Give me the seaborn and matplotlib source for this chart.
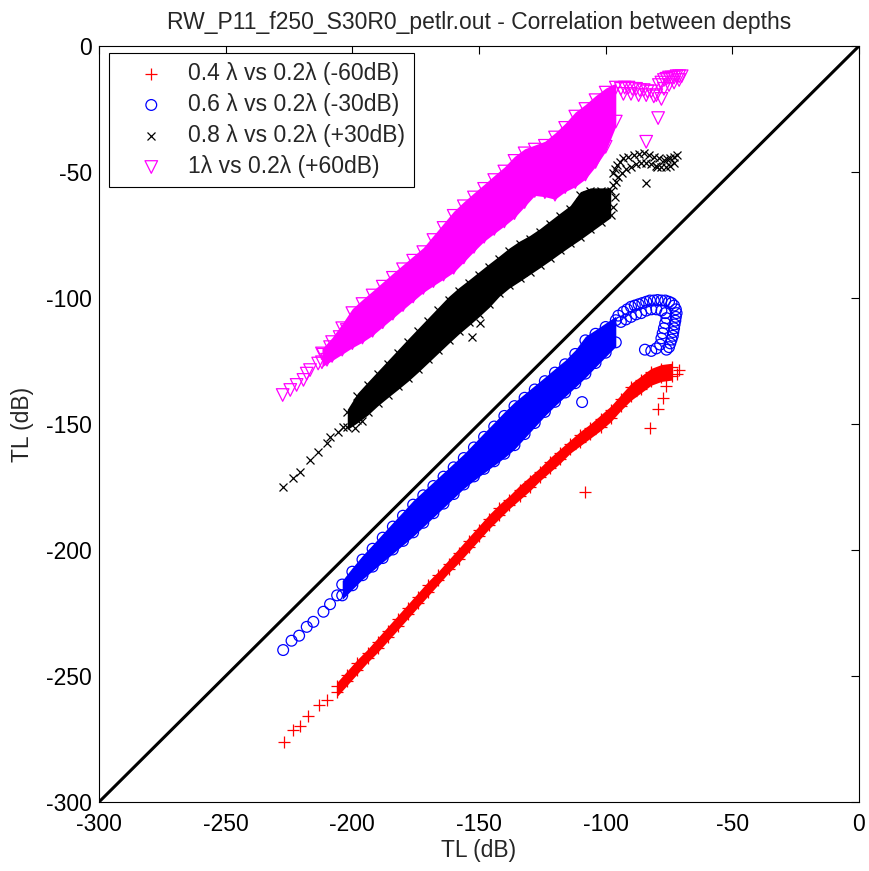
import pandas as pd
import matplotlib
matplotlib.use("Agg")
import matplotlib.pyplot as plt
import seaborn as sns

# values (TL in dB)
# dense bands: column x, lower and upper edge of the point cloud
red_x = [-206, -202, -198, -194, -190, -186, -182, -178, -174, -170, -166, -162, -158, -154, -150,
         -146, -142, -138, -134, -130, -126, -122, -118, -114, -110, -106, -102, -98, -94, -90, -86, -82, -78, -74]
red_lo = [-256.5, -252, -247.5, -243, -239, -234.5, -230, -225.5, -221, -216.5, -212, -207.5, -203.5, -199, -194.5,
          -190, -186, -182, -178.5, -175, -171, -167.5, -164, -160, -157, -154, -151, -147.5, -143, -139, -136, -133, -131.5, -131]
red_hi = [-254, -249.5, -245, -241, -236.5, -232, -227.5, -223, -218.5, -214, -210, -205.5, -201, -196.5, -192,
          -187.5, -183.5, -180, -176, -172.5, -169, -165, -161.5, -158, -154.5, -151.5, -148, -144.5, -140, -135.5, -132.5, -129.5, -128, -127.5]
red_px = [-227, -223.5, -220.5, -217.5, -213, -210, -108, -82.5, -79.5, -77.5, -76, -72, -71]
red_py = [-276, -271.5, -270, -266, -261.5, -259.5, -177, -151.5, -144, -139.5, -135, -130, -128.5]

blue_x = [-204, -200, -196, -192, -188, -184, -180, -176, -172, -168, -164, -160, -156, -152,
          -148, -144, -140, -136, -132, -128, -124, -120, -116, -112, -108, -104, -100, -96]
blue_lo = [-218, -214, -210, -206.6, -203.2, -199.8, -196.4, -193, -189.2, -185.4, -181.6, -177.8, -174, -170.8,
           -167.8, -164.8, -161.8, -158.4, -154, -149.6, -145.2, -141.2, -137.5, -133.8, -130, -125.8, -121.7, -117.6]
blue_hi = [-213.7, -208.6, -203.8, -199.5, -195.1, -190.7, -186.4, -182, -178.3, -174.6, -170.9, -167.2, -163.5, -159.3,
           -155.1, -151, -146.8, -142.9, -139.6, -136.3, -133, -129.6, -126.3, -122.2, -116.8, -114.2, -111.5, -108.8]
blue_px = [-227.3, -224, -221, -218, -215.4, -211.4, -208.8, -206,
           -95, -93, -91.5, -90, -88.5, -87, -85.5, -84, -82.5, -81, -79.5, -78, -76.5, -75, -74, -73,
           -72.3, -72, -72.3, -72.5, -72.8, -73, -73.3, -73.5, -74, -74.5, -75, -76,
           -94, -92, -90, -88, -86, -84, -82, -80, -78, -76.5, -76, -76.5, -77, -77.5, -78, -78.5,
           -84.5, -82, -80, -109.3]
blue_py = [-239.7, -236, -234, -230.5, -228.5, -224.5, -221.5, -218,
           -107, -105.5, -104.5, -103.5, -103, -102.5, -102, -101.5, -101, -101, -100.8, -101, -101, -101.5, -102, -103,
           -104.5, -106, -107.5, -109, -110.5, -112, -113.5, -115, -116.5, -118, -119.5, -120.5,
           -109.5, -108.5, -107.5, -106.5, -106, -105, -104.5, -104.5, -105, -106, -108, -110, -112, -114, -116, -118.5,
           -120.5, -121, -120, -141.3]

black_x = [-202, -198, -194, -190, -186, -182, -178, -174, -170, -166, -162, -158, -154, -150,
           -146, -142, -138, -134, -130, -126, -122, -118, -114, -110, -106, -102, -98]
black_lo = [-151, -148.3, -145.3, -141.6, -138.3, -135.1, -131.8, -128.2, -124.4, -120.6, -116.8, -113.1, -109.7, -106.2,
            -102.5, -98.1, -94.8, -92.2, -89.5, -86.8, -84, -81.1, -78.3, -75.6, -72.7, -69.8, -66.9]
black_hi = [-145.4, -139, -134.6, -130.3, -126, -121.7, -117.4, -113.2, -109, -104.8, -100.6, -97.1, -94, -90.8,
            -87.6, -84.5, -81.3, -78.6, -76.4, -73.7, -70.6, -67.5, -64.5, -59, -57.5, -57.5, -57.5]
black_px = [-227.2, -223.3, -220.6, -216.7, -213.4, -210.1, -208.8, -205.5, -203.5,
            -97, -96.3, -95.6, -94.3, -93, -91, -89, -87, -85, -83, -81, -79, -77, -75.7, -74.5, -73.2, -72,
            -96, -95, -93.5, -92, -90, -88, -86, -84, -82, -80, -78, -76, -74.5, -73,
            -97, -96.5, -97, -84, -79.6, -152.9, -149.6, -199, -196]
black_py = [-174.9, -171.6, -169, -164.3, -161, -157.7, -155, -153, -151,
            -50.5, -49, -47.2, -46, -44.6, -44, -43.3, -43, -42.6, -43.2, -43.9, -44.5, -45.2, -45, -44.6, -44, -43.3,
            -54, -52, -50.5, -49, -48, -47, -46.5, -46.5, -47, -47.5, -48, -48, -47.5, -46.5,
            -55, -60, -64, -54.2, -48.1, -115.3, -110, -151.5, -149]

mag_x = [-212, -208, -204, -200, -196, -192, -188, -184, -180, -176, -172, -168, -164, -160, -156, -152, -148,
         -144, -140, -136, -132, -128, -124, -120, -116, -112, -108, -104, -100, -96]
mag_lo = [-125.5, -123, -120.5, -117.9, -115.7, -113, -109.6, -106.2, -102.8, -99.4, -96, -93.3, -90.7, -88, -83.9, -79.7, -75.7,
          -72.6, -69.6, -66.3, -61.9, -57.5, -58, -59, -56, -54, -51, -46, -40, -30]
mag_hi = [-122, -117.5, -112, -106, -102.4, -99, -95.5, -92, -88.6, -85.2, -81.8, -77, -72.2, -67.4, -63.6, -60.1, -56.7,
          -53.2, -49.8, -45.6, -42.6, -41.1, -39.6, -36.3, -32.5, -28, -25, -21.5, -18.5, -16.5]
mag_px = [-227.5, -224.5, -222, -219.3, -218, -216.7, -213.5, -211.5, -210, -208.8, -207, -205, -204, -202.2,
          -94, -92.5, -91, -89.5, -88, -86.5, -85, -83.5, -82, -80, -78, -93, -90, -87, -84, -81,
          -79, -78, -77, -76, -75, -74, -73, -72, -71, -70, -77, -75, -73, -71,
          -79.3, -84]
mag_py = [-138.5, -136.5, -134.5, -132.5, -130, -128.6, -126, -122.5, -124.5, -119.5, -121.5, -115.5, -118.5, -112.7,
          -17, -16.5, -16.5, -17, -17, -17.5, -17.5, -18, -18, -19.5, -21, -19, -19, -19.5, -19.5, -20,
          -15.5, -14.5, -13.5, -13, -12.5, -12.5, -12.5, -12, -12, -12, -17, -15.5, -14.5, -13.5,
          -28.6, -38]

labels = ["0.4 λ vs 0.2λ (-60dB)", "0.6 λ vs 0.2λ (-30dB)",
          "0.8 λ vs 0.2λ (+30dB)", "1λ vs 0.2λ (+60dB)"]
ticks = [-300, -250, -200, -150, -100, -50, 0]

sns.set_style("white")
plt.rcParams['font.family'] = ['Liberation Sans', 'DejaVu Sans']
plt.rcParams['axes.unicode_minus'] = False
plt.rcParams['font.size'] = 16.5

fig = plt.figure(figsize=(8.7, 8.71), dpi=100)
ax = fig.add_axes([99 / 870, 1 - 802 / 871, 760 / 870, 756 / 871])

# (marker, size, how far the solid core reaches past the edge markers in dB)
series = [
    (red_x, red_lo, red_hi, red_px, red_py, "#ff0000", "+", 70, 1.6),
    (blue_x, blue_lo, blue_hi, blue_px, blue_py, "#0000ff", "o", 60, 1.6),
    (black_x, black_lo, black_hi, black_px, black_py, "black", "x", 33, 1.2),
    (mag_x, mag_lo, mag_hi, mag_px, mag_py, "#ff00ff", "v", 82, 1.8),
]

for (xs, lo, hi, px, py, col, mk, size, pad), lab in zip(series, labels):
    df = pd.DataFrame({"x": xs + xs + px, "y": lo + hi + py})
    ax.fill_between(xs, [v - pad for v in lo], [v + pad for v in hi], color=col, linewidth=0)
    if mk in ("o", "v"):
        sns.scatterplot(data=df, x="x", y="y", marker=mk, s=size, facecolor="none",
                        edgecolor=col, linewidth=0.9, label=lab, ax=ax)
    else:
        sns.scatterplot(data=df, x="x", y="y", marker=mk, s=size, color=col,
                        linewidth=0.9, label=lab, ax=ax)

ax.axline((0, 0), slope=1, color="black", linewidth=2.2)

ax.set_xlim(-300, 0)
ax.set_ylim(-300, 0)
ax.set_xticks(ticks)
ax.set_yticks(ticks)
ax.tick_params(direction="in", top=True, right=True, length=5.5, width=0.8,
               labelsize=16.5, colors="black")
ax.tick_params(axis="x", pad=8)
ax.tick_params(axis="y", pad=5)
for sp in ax.spines.values():
    sp.set_linewidth(0.8)
    sp.set_color("black")

ax.set_xlabel("TL (dB)", fontsize=16.5, labelpad=2)
ax.set_ylabel("TL (dB)", fontsize=16.5, labelpad=9)
ax.set_title("RW_P11_f250_S30R0_petlr.out - Correlation between depths", fontsize=16.5, pad=12)

leg = ax.legend(loc="upper left", bbox_to_anchor=(0.013, 0.991), borderaxespad=0,
                fancybox=False, edgecolor="black", framealpha=1, fontsize=16.5,
                handlelength=2.9, handletextpad=0.15, borderpad=0.4, labelspacing=0.35)
leg.get_frame().set_linewidth(0.8)

fig.savefig("out.png", dpi=100)
